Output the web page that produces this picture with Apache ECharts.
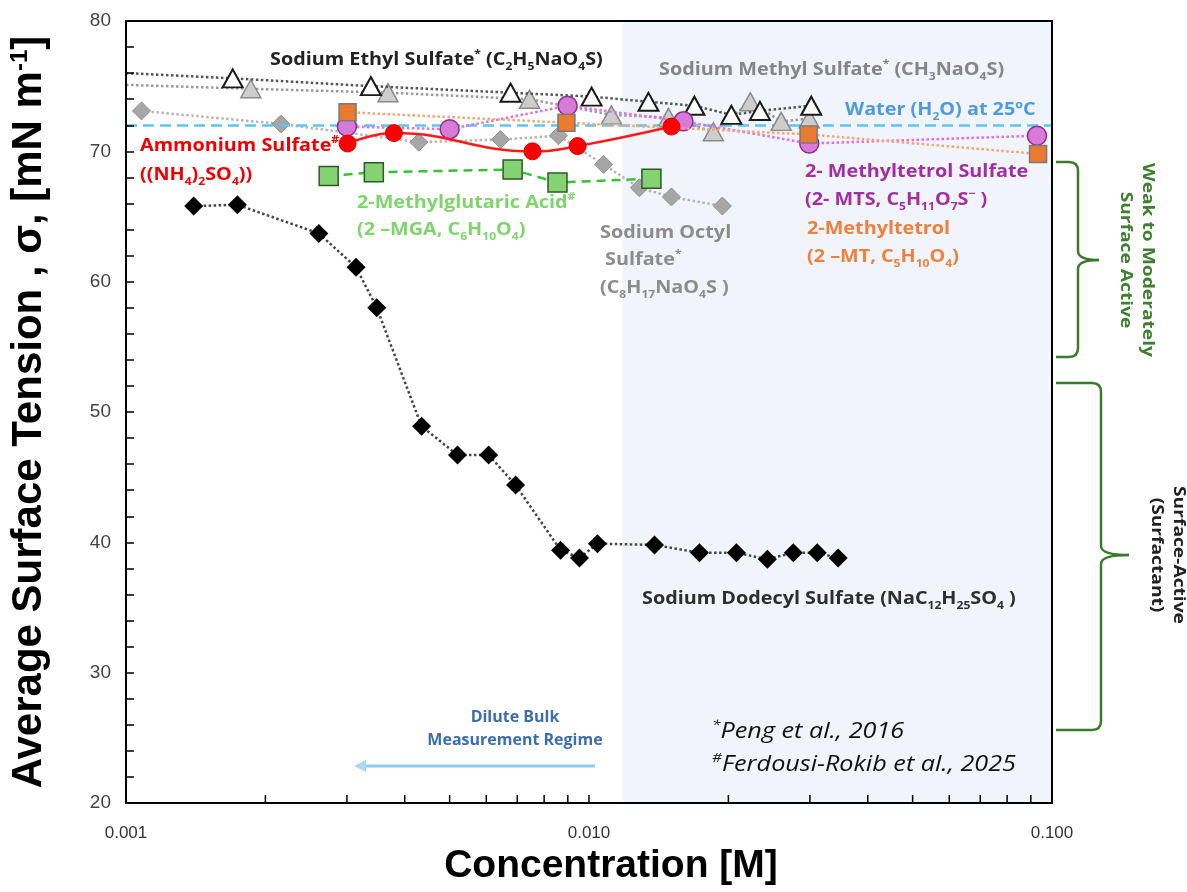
<!DOCTYPE html>
<html>
<head>
<meta charset="utf-8">
<script src="https://cdn.jsdelivr.net/npm/echarts@6/dist/echarts.min.js"></script>
<style>html,body{margin:0;padding:0;background:#fff}#c{width:1187px;height:892px}#err{position:absolute;left:130px;top:400px;color:#f0f;font:14px monospace;white-space:pre}</style>
</head>
<body>
<div id="c"></div><div id="err"></div>
<script>
// ---------------- DATA ----------------
const xTickValues = [0.001, 0.01, 0.1];
const xMinorTicks = [0.002,0.003,0.004,0.005,0.006,0.007,0.008,0.009,0.02,0.03,0.04,0.05,0.06,0.07,0.08,0.09];
const yTickLabels = [20, 30, 40, 50, 60, 70, 80];

const sdsConc = [0.00140,0.00174,0.00261,0.00314,0.00348,0.00435,0.00520,0.00607,0.00694,0.00868,0.00954,0.01043,0.01385,0.01732,0.02081,0.02428,0.02762,0.03112,0.03453];
const sdsTension = [65.8,65.9,63.7,61.1,58.0,48.9,46.7,46.7,44.4,39.4,38.8,39.9,39.8,39.2,39.2,38.7,39.2,39.2,38.8];

const ethylConc = [0.001,0.00170,0.00338,0.00677,0.01013,0.01344,0.01689,0.0203,0.0234,0.0302];
const ethylTension = [76.0,75.6,75.0,74.5,74.2,73.8,73.5,72.8,73.1,73.5];

const methylConc = [0.001,0.00186,0.00368,0.00744,0.01118,0.01485,0.01856,0.0223,0.0260,0.0299];
const methylTension = [75.1,74.8,74.5,74.0,72.8,72.6,71.5,73.8,72.3,72.5];

const octylConc = [0.00108,0.00216,0.00429,0.00644,0.00859,0.01075,0.01285,0.01507,0.01941];
const octylTension = [73.1,72.1,70.7,70.9,71.2,69.0,67.2,66.5,65.8];

const amsConc = [0.00301,0.00379,0.00755,0.00945,0.01507];
const amsTension = [70.6,71.4,70.0,70.4,71.9];

const mtsConc = [0.00300,0.00500,0.00899,0.0160,0.0299,0.0928];
const mtsTension = [71.9,71.7,73.5,72.3,70.6,71.2];

const mtConc = [0.00301,0.00894,0.0298,0.0933];
const mtTension = [73.0,72.2,71.3,69.8];

const mgaConc = [0.00274,0.00343,0.00684,0.00855,0.01364];
const mgaTension = [68.1,68.4,68.6,67.6,67.9];

const waterTension = 72.0;
const diluteRegimeStart = 0.0118;
const diluteRegimeEnd = 0.1;

// ---------------- HELPERS ----------------
function pairs(xs, ys) { return xs.map((x, i) => [x, ys[i]]); }
function richSet(color, size, family, weight, style) {
  const f = family || 'Open Sans';
  const w = weight || 'bold';
  const s = style || 'normal';
  const small = Math.round(size * 0.62);
  return {
    m: {fill: color, fontSize: size, fontFamily: f, fontWeight: w, fontStyle: s, lineHeight: size + 6},
    sub: {fill: color, fontSize: small, fontFamily: f, fontWeight: w, fontStyle: s, verticalAlign: 'bottom', lineHeight: small},
    sup: {fill: color, fontSize: small, fontFamily: f, fontWeight: w, fontStyle: s, verticalAlign: 'top', lineHeight: small}
  };
}
function label(x, y, text, color, size, opts) {
  opts = opts || {};
  return {
    type: 'text', x: x, y: y, z: 100, rotation: opts.rotation || 0,
    scaleX: opts.scaleX || 1.1,
    style: {
      text: text, fill: color,
      rich: richSet(color, size, opts.family, opts.weight, opts.fontStyle),
      align: opts.align || 'left', verticalAlign: 'middle'
    }
  };
}
function brace(x0, xv, xt, yTop, yMid, yBot, r) {
  const st = {stroke: '#3b7a2b', lineWidth: 2.5, fill: null};
  const els = [];
  const curve = (x1, y1, x2, y2, cx, cy) => els.push({type: 'bezierCurve', z: 100, shape: {x1, y1, x2, y2, cpx1: cx, cpy1: cy}, style: st});
  const seg = (x1, y1, x2, y2) => els.push({type: 'line', z: 100, shape: {x1, y1, x2, y2}, style: st});
  seg(x0, yTop, xv - r, yTop);
  curve(xv - r, yTop, xv, yTop + r, xv, yTop);
  seg(xv, yTop + r, xv, yMid - r);
  curve(xv, yMid - r, xt, yMid, xv, yMid);
  curve(xt, yMid, xv, yMid + r, xv, yMid);
  seg(xv, yMid + r, xv, yBot - r);
  curve(xv, yBot - r, xv - r, yBot, xv, yBot);
  seg(xv - r, yBot, x0, yBot);
  return els;
}

const chart = echarts.init(document.getElementById('c'), null, {renderer: 'canvas'});

const option = {
  animation: false,
  backgroundColor: '#ffffff',
  grid: {left: 125, right: 135, top: 21, bottom: 89, show: true, borderColor: '#000', borderWidth: 2, z: 30},
  xAxis: {
    type: 'log', logBase: 10, min: 0.001, max: 0.1, z: 30,
    name: 'Concentration [M]', nameLocation: 'middle', nameGap: 40,
    nameTextStyle: {fontFamily: 'Liberation Sans', fontWeight: 'bold', fontSize: 39, color: '#000', padding: [0, 0, 0, 44]},
    axisLine: {show: true, lineStyle: {color: '#000', width: 2}},
    axisTick: {show: true, inside: true, length: 8, lineStyle: {color: '#000', width: 1.5}},
    axisLabel: {show: true, margin: 22, color: '#333', fontSize: 17, fontFamily: 'Liberation Sans',
                formatter: v => Number(v).toFixed(3)},
    splitLine: {show: false}, minorTick: {show: false}
  },
  yAxis: {
    type: 'value', min: 20, max: 80, interval: 10, z: 30,
    name: 'Average Surface Tension , σ, [mN m{sup|-1}]',
    nameLocation: 'middle', nameGap: 76, nameRotate: 90,
    nameTextStyle: {
      fontFamily: 'Liberation Sans', fontWeight: 'bold', fontSize: 42, color: '#000',
      rich: {sup: {fontFamily: 'Liberation Sans', fontWeight: 'bold', fontSize: 24, color: '#000', verticalAlign: 'top', lineHeight: 24}}
    },
    axisLine: {show: true, lineStyle: {color: '#000', width: 2}},
    axisTick: {show: true, inside: true, length: 8, lineStyle: {color: '#000', width: 1.5}},
    minorTick: {show: true, splitNumber: 5, length: 8, lineStyle: {color: '#000', width: 1.5}},
    axisLabel: {margin: 15, color: '#444', fontSize: 19, fontFamily: 'Liberation Sans',
                formatter: v => yTickLabels.indexOf(v) >= 0 ? String(v) : ''},
    splitLine: {show: false}, minorSplitLine: {show: false}
  },
  series: [
    {
      name: 'minor ticks', type: 'custom', z: 31, silent: true,
      data: xMinorTicks.map(v => [v, 20]),
      renderItem: function (params, api) {
        const p = api.coord([api.value(0), api.value(1)]);
        return {type: 'line', shape: {x1: p[0], y1: p[1], x2: p[0], y2: p[1] - 8},
                style: {stroke: '#000', lineWidth: 1.5}};
      }
    },
    {
      name: 'Water', type: 'line', data: [], z: 3, silent: true,
      markLine: {symbol: 'none', silent: true, label: {show: false},
        lineStyle: {color: '#5cc6ee', type: [11, 6], width: 2.5},
        data: [{yAxis: waterTension}]}
    },
    {
      name: 'Sodium Octyl Sulfate', type: 'line', z: 4, data: pairs(octylConc, octylTension),
      symbol: 'diamond', symbolSize: 18,
      itemStyle: {color: '#a6a6a6', borderColor: '#919191', borderWidth: 1},
      lineStyle: {color: '#b5b5b5', type: 'dotted', width: 2.5}
    },
    {
      name: 'Sodium Methyl Sulfate', type: 'line', z: 5,
      data: pairs(methylConc, methylTension).map((p, i) => i === 0 ? {value: p, symbol: 'none'} : p),
      symbol: 'triangle', symbolSize: [20, 18],
      itemStyle: {color: '#cdcdcd', borderColor: '#8a8a8a', borderWidth: 1.5},
      lineStyle: {color: '#9a9a9a', type: 'dotted', width: 2.5}
    },
    {
      name: 'Sodium Ethyl Sulfate', type: 'line', z: 6,
      data: pairs(ethylConc, ethylTension).map((p, i) => i === 0 ? {value: p, symbol: 'none'} : p),
      symbol: 'triangle', symbolSize: [20, 18],
      itemStyle: {color: '#ffffff', borderColor: '#1a1a1a', borderWidth: 2},
      lineStyle: {color: '#555', type: 'dotted', width: 2.5}
    },
    {
      name: 'Sodium Dodecyl Sulfate', type: 'line', z: 7, data: pairs(sdsConc, sdsTension),
      symbol: 'diamond', symbolSize: 19,
      itemStyle: {color: '#000'},
      lineStyle: {color: '#444', type: 'dotted', width: 2.5}
    },
    {
      name: '2-MGA', type: 'line', z: 8, data: pairs(mgaConc, mgaTension),
      symbol: 'rect', symbolSize: 19,
      itemStyle: {color: '#84d272', borderColor: '#2b5a26', borderWidth: 1.5},
      lineStyle: {color: '#36c236', type: [9, 6], width: 2.5}
    },
    {
      name: '2-MTS', type: 'line', z: 9, data: pairs(mtsConc, mtsTension),
      symbol: 'circle', symbolSize: 19,
      itemStyle: {color: '#d87ad8', borderColor: '#8a2f8a', borderWidth: 1.5},
      lineStyle: {color: '#e26ee2', type: 'dotted', width: 2.5}
    },
    {
      name: '2-MT', type: 'line', z: 10, data: pairs(mtConc, mtTension),
      symbol: 'rect', symbolSize: 17,
      itemStyle: {color: '#ea7a30', borderColor: '#7a7a7a', borderWidth: 1.5},
      lineStyle: {color: '#f4a672', type: 'dotted', width: 2.5}
    },
    {
      name: 'Ammonium Sulfate', type: 'line', z: 11, data: pairs(amsConc, amsTension),
      symbol: 'circle', symbolSize: 17, smooth: 0.45,
      itemStyle: {color: '#ff0000', borderColor: '#e00000', borderWidth: 1},
      lineStyle: {color: '#ff1a1a', type: 'solid', width: 2.5}
    },
    {
      name: 'Dilute regime', type: 'line', data: [], z: 20, silent: true,
      markArea: {silent: true, itemStyle: {color: 'rgba(212,222,242,0.32)'},
        data: [[{xAxis: diluteRegimeStart}, {xAxis: diluteRegimeEnd}]]}
    }
  ],
  graphic: [
    label(270, 60, '{m|Sodium Ethyl Sulfate}{sup|*}{m| (C}{sub|2}{m|H}{sub|5}{m|NaO}{sub|4}{m|S)}', '#222', 18),
    label(659, 70, '{m|Sodium Methyl Sulfate}{sup|*}{m| (CH}{sub|3}{m|NaO}{sub|4}{m|S)}', '#858585', 18),
    label(845, 110, '{m|Water (H}{sub|2}{m|O) at 25ºC}', '#4c9be0', 18),
    label(140, 146, '{m|Ammonium Sulfate}{sup|#}', '#f00000', 18),
    label(140, 175, '{m|((NH}{sub|4}{m|)}{sub|2}{m|SO}{sub|4}{m|))}', '#f00000', 18),
    label(357, 203, '{m|2-Methylglutaric Acid}{sup|#}', '#7fd46d', 18),
    label(357, 230, '{m|(2 –MGA, C}{sub|6}{m|H}{sub|10}{m|O}{sub|4}{m|)}', '#7fd46d', 18),
    label(600, 233, '{m|Sodium Octyl}', '#8c8c8c', 18),
    label(605, 260, '{m|Sulfate}{sup|*}', '#8c8c8c', 18),
    label(600, 288, '{m|(C}{sub|8}{m|H}{sub|17}{m|NaO}{sub|4}{m|S )}', '#8c8c8c', 18),
    label(805, 172, '{m|2- Methyltetrol Sulfate}', '#a22ea2', 18),
    label(805, 200, '{m|(2- MTS, C}{sub|5}{m|H}{sub|11}{m|O}{sub|7}{m|S}{sup|−}{m| )}', '#a22ea2', 18),
    label(807, 229, '{m|2-Methyltetrol}', '#f0803e', 18),
    label(807, 257, '{m|(2 –MT, C}{sub|5}{m|H}{sub|10}{m|O}{sub|4}{m|)}', '#f0803e', 18),
    label(642, 599, '{m|Sodium Dodecyl Sulfate (NaC}{sub|12}{m|H}{sub|25}{m|SO}{sub|4}{m| )}', '#2e2e2e', 18),
    label(515, 717, '{m|Dilute Bulk}', '#3b6db2', 16, {align: 'center', scaleX: 1}),
    label(515, 740, '{m|Measurement Regime}', '#3b6db2', 16, {align: 'center', scaleX: 1}),
    label(712, 732, '{sup|*}{m|Peng et al., 2016}', '#111', 21, {weight: 'normal', fontStyle: 'italic', scaleX: 1.2}),
    label(712, 765, '{sup|#}{m|Ferdousi-Rokib et al., 2025}', '#111', 21, {weight: 'normal', fontStyle: 'italic', scaleX: 1.2}),
    label(1148, 260, '{m|Weak to Moderately}', '#3f7f2f', 16, {align: 'center', rotation: -Math.PI / 2, scaleX: 1.2}),
    label(1126, 260, '{m|Surface Active}', '#3f7f2f', 16, {align: 'center', rotation: -Math.PI / 2, scaleX: 1.2}),
    label(1179, 555, '{m|Surface-Active}', '#222', 16, {align: 'center', rotation: -Math.PI / 2, scaleX: 1.2}),
    label(1157, 555, '{m|(Surfactant)}', '#222', 16, {align: 'center', rotation: -Math.PI / 2, scaleX: 1.2}),
    {type: 'line', z: 100, shape: {x1: 362, y1: 766, x2: 595, y2: 766},
      style: {lineWidth: 3, stroke: '#8fcdef'}},
    {type: 'polygon', z: 100, shape: {points: [[354, 766], [366, 760], [366, 772]]}, style: {fill: '#a9d8f2'}}
  ].concat(brace(1056, 1078, 1099, 162, 260, 357, 9), brace(1056, 1101, 1129, 383, 555, 730, 9))
};
try {
  chart.setOption(option);
} catch (e) {
  document.getElementById('err').textContent = 'ERR: ' + e.message + '\n' + (e.stack || '').slice(0, 600);
}
</script>
</body>
</html>
